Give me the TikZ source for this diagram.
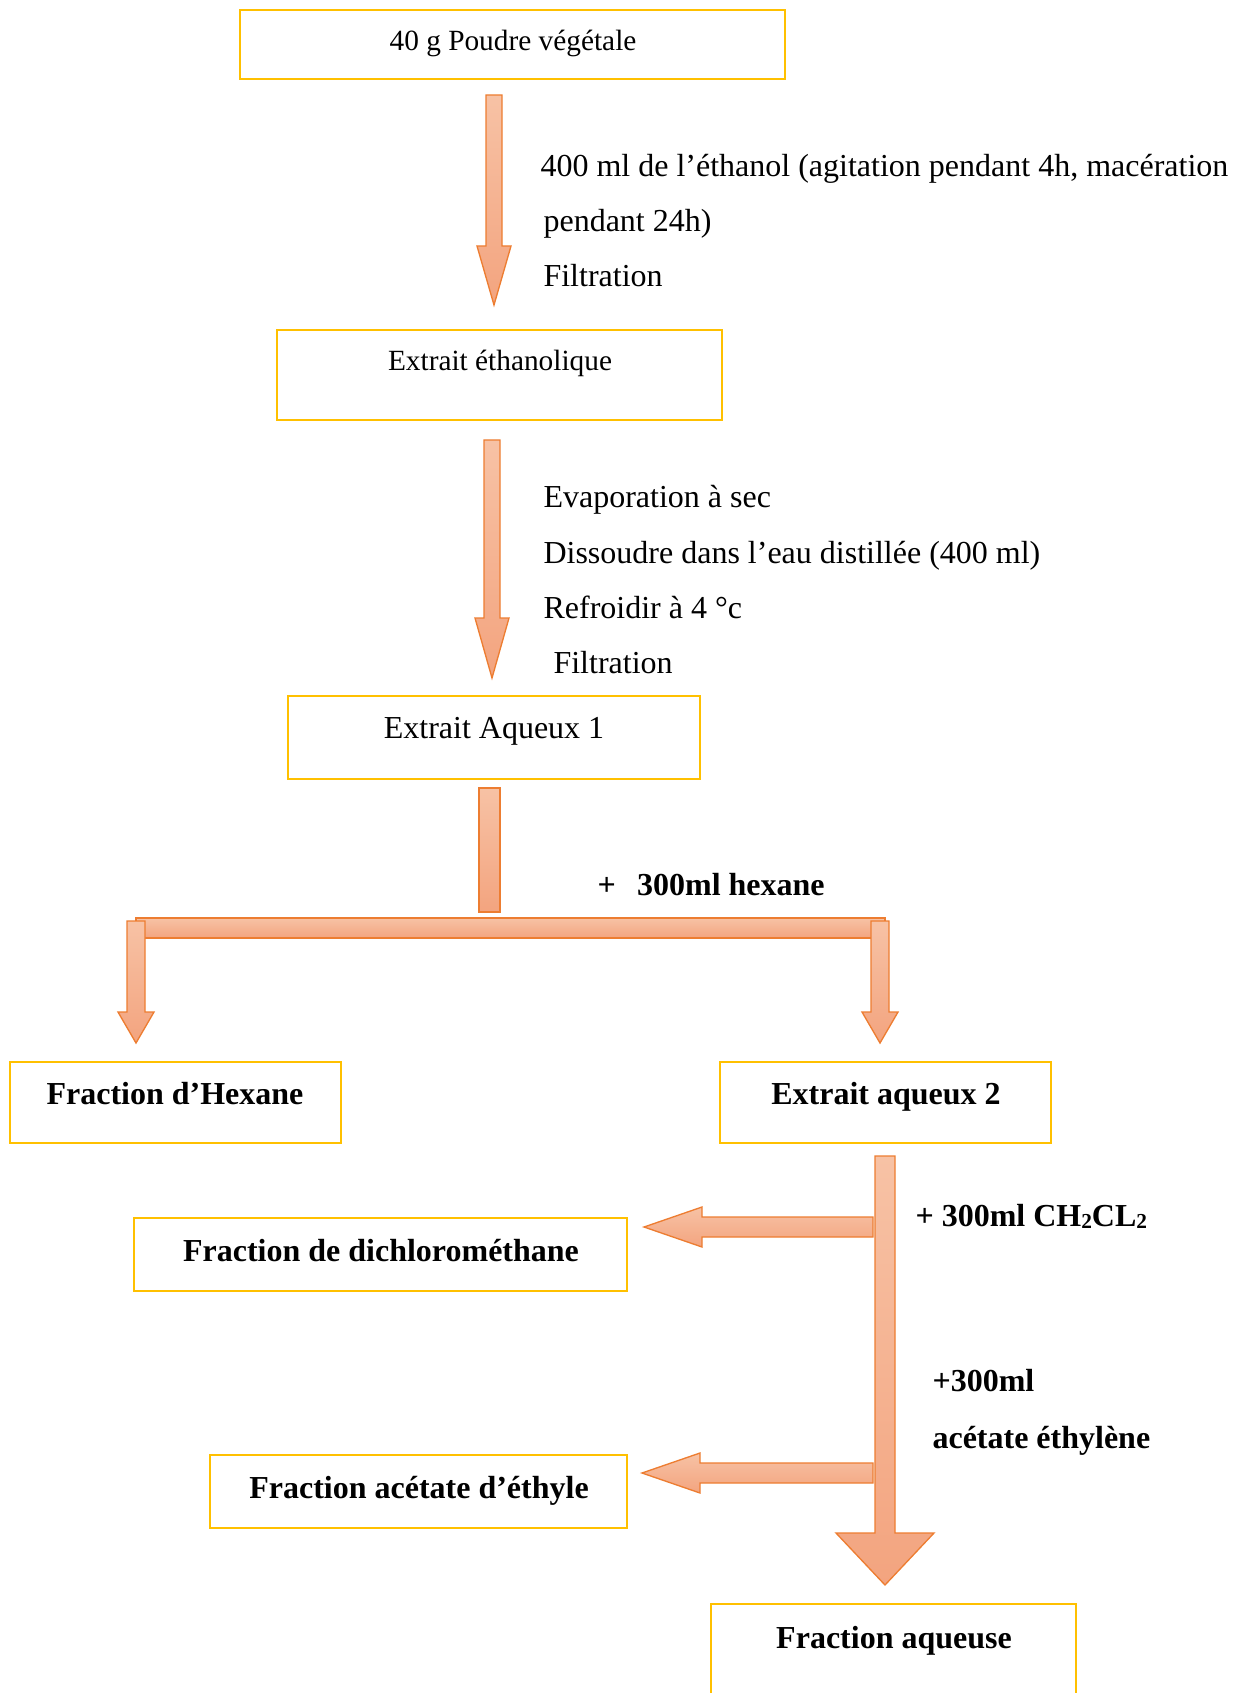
\documentclass[tikz,border=0pt]{standalone}
\usepackage{fontspec}
\setmainfont{Liberation Serif}
\usetikzlibrary{fit}
\definecolor{boxgold}{HTML}{FFC000}
\definecolor{arrline}{HTML}{ED7D31}
\definecolor{arrtop}{HTML}{F7C2A5}
\definecolor{arrbot}{HTML}{F3A47F}
\tikzset{
  box/.style={draw=boxgold, line width=1.0pt, inner sep=0pt},
  blk/.style={draw=arrline, line width=0.5pt, top color=arrtop, bottom color=arrbot},
  txt/.style={inner sep=0pt, yshift=-1.6pt, text height=8.6pt, text depth=2.6pt},
  lbl/.style={txt, font=\fontsize{12}{14}\selectfont},
  lbls/.style={txt, text height=7.9pt, text depth=2.4pt, font=\fontsize{11}{13}\selectfont},
  blbl/.style={txt, font=\fontsize{12}{14}\selectfont\bfseries},
  note/.style={txt, anchor=west, font=\fontsize{12}{14}\selectfont},
  bnote/.style={txt, anchor=west, font=\fontsize{12}{14}\selectfont\bfseries}
}
% cx, top, headstart, tip, shaft half width, head half width
\newcommand{\dnarrow}[6]{%
  \path[blk] (#1-#5,#2) -- (#1+#5,#2) -- (#1+#5,#3) -- (#1+#6,#3) -- (#1,#4) -- (#1-#6,#3) -- (#1-#5,#3) -- cycle;}
% cy, right, headbase, tip, shaft half width, head half width
\newcommand{\ltarrow}[6]{%
  \path[blk] (#2,#1-#5) -- (#3,#1-#5) -- (#3,#1-#6) -- (#4,#1) -- (#3,#1+#6) -- (#3,#1+#5) -- (#2,#1+#5) -- cycle;}
\newcommand{\lowsub}[1]{\raisebox{-0.15ex}{\fontsize{8}{9}\selectfont #1}}
\begin{document}
\begin{tikzpicture}[x=0.375pt, y=-0.375pt]
\useasboundingbox (0,0) rectangle (1237,1693);

% boxes
\node[box, fit={(240,10) (785,79)}] (b1) {};
\node[lbls] (t1) at (513,39) {40 g Poudre végétale};
\node[box, fit={(277,330) (722,420)}] (b2) {};
\node[lbls] (t2) at (500,359) {Extrait éthanolique};
\node[box, fit={(288,696) (700,779)}] (b3) {};
\node[lbl] (t3) at (494,726) {Extrait Aqueux 1};
\node[box, fit={(10,1062) (341,1143)}] (b4) {};
\node[blbl] (t4) at (175,1092) {Fraction d’Hexane};
\node[box, fit={(720,1062) (1051,1143)}] (b5) {};
\node[blbl] (t5) at (886,1092) {Extrait aqueux 2};
\node[box, fit={(134,1218) (627,1291)}] (b6) {};
\node[blbl] (t6) at (381,1249) {Fraction de dichlorométhane};
\node[box, fit={(210,1455) (627,1528)}] (b7) {};
\node[blbl] (t7) at (419,1486) {Fraction acétate d’éthyle};
\draw[draw=boxgold, line width=1.0pt] (711,1700) -- (711,1604) -- (1076,1604) -- (1076,1700);
\node[blbl] (t8) at (894,1636) {Fraction aqueuse};

% arrows
\dnarrow{494}{95}{246}{305}{8}{17}
\dnarrow{492}{440}{618}{678}{8}{17}
\path[blk] (479,788) rectangle (500,912);
\path[blk] (136,918) rectangle (885,938);
\dnarrow{136}{921}{1012}{1043}{9}{18}
\dnarrow{880}{921}{1012}{1043}{9}{18}
\dnarrow{885}{1156}{1533}{1585}{10}{49}
\ltarrow{1227}{873}{702}{644}{10}{20}
\ltarrow{1473}{873}{700}{642}{10}{20}

% side notes
\node[note] (n1) at (540,164) {400 ml de l’éthanol (agitation pendant 4h, macération};
\node[note] (n2) at (543,219) {pendant 24h)};
\node[note] (n3) at (543,274) {Filtration};
\node[note] (n4) at (543,495) {Evaporation à sec};
\node[note] (n5) at (543,551) {Dissoudre dans l’eau distillée (400 ml)};
\node[note] (n6) at (543,606) {Refroidir à 4 °c};
\node[note] (n7) at (553,661) {Filtration};
\node[bnote] (n8) at (597,883) {+\hspace{8pt}300ml hexane};
\node[bnote] (n9) at (915,1214) {+ 300ml CH\lowsub{2}CL\lowsub{2}};
\node[bnote] (n10) at (932,1379) {+300ml};
\node[bnote] (n11) at (932,1436) {acétate éthylène};
\end{tikzpicture}
\end{document}
